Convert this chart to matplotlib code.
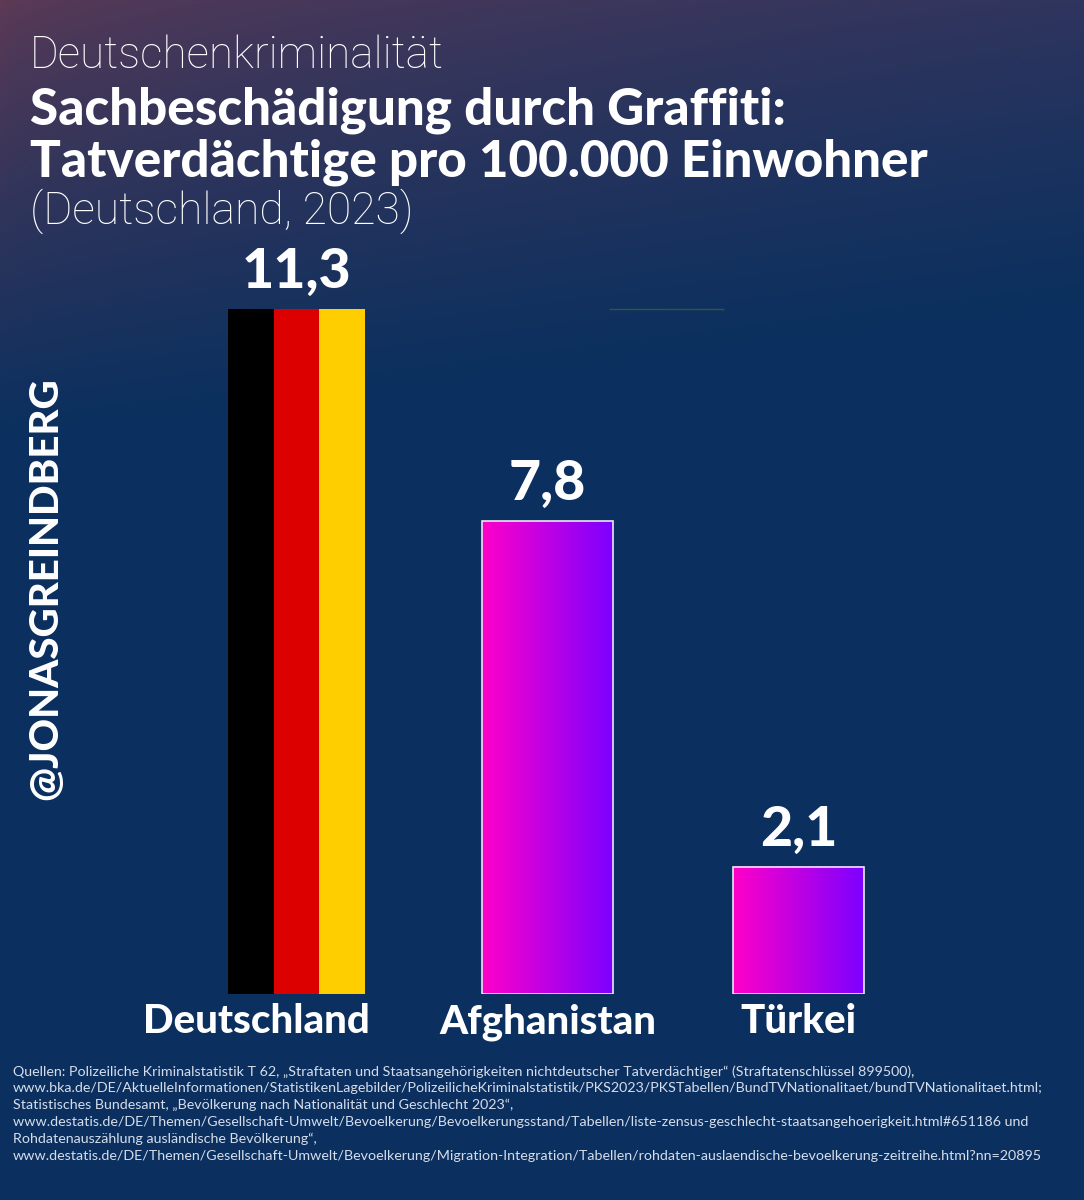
import numpy as np
import matplotlib.pyplot as plt
from matplotlib.colors import LinearSegmentedColormap
from matplotlib.patches import Rectangle

countries = ['Deutschland', 'Afghanistan', 'Türkei']
values = [11.3, 7.8, 2.1]
value_labels = ['11,3', '7,8', '2,1']
flag_colors = ['#000000', '#dd0000', '#ffce00']

kicker = 'Deutschenkriminalität'
title = 'Sachbeschädigung durch Graffiti:\nTatverdächtige pro 100.000 Einwohner'
subtitle = '(Deutschland, 2023)'
handle = '@JONASGREINDBERG'
sources = [
    'Quellen: Polizeiliche Kriminalstatistik T 62, „Straftaten und Staatsangehörigkeiten nichtdeutscher Tatverdächtiger“ (Straftatenschlüssel 899500),',
    'www.bka.de/DE/AktuelleInformationen/StatistikenLagebilder/PolizeilicheKriminalstatistik/PKS2023/PKSTabellen/BundTVNationalitaet/bundTVNationalitaet.html;',
    'Statistisches Bundesamt, „Bevölkerung nach Nationalität und Geschlecht 2023“,',
    'www.destatis.de/DE/Themen/Gesellschaft-Umwelt/Bevoelkerung/Bevoelkerungsstand/Tabellen/liste-zensus-geschlecht-staatsangehoerigkeit.html#651186 und',
    'Rohdatenauszählung ausländische Bevölkerung“,',
    'www.destatis.de/DE/Themen/Gesellschaft-Umwelt/Bevoelkerung/Migration-Integration/Tabellen/rohdaten-auslaendische-bevoelkerung-zeitreihe.html?nn=20895',
]

W, H = 1084, 1200
fig = plt.figure(figsize=(W / 100, H / 100), dpi=100)

# background: purple-ish top (redder at the left) fading down to navy
bg = fig.add_axes([0, 0, 1, 1])
yy, xx = np.mgrid[0:H:4, 0:W:4]
top_l = np.array([0x5e, 0x3a, 0x55]) / 255
top_r = np.array([0x30, 0x35, 0x5e]) / 255
navy = np.array([0x0b, 0x30, 0x5f]) / 255
hx = (xx / W)[..., None] ** 0.55
top = top_l * (1 - hx) + top_r * hx
v = np.clip(yy / (430 - 130 * xx / W), 0, 1)[..., None] ** 0.85
img = top * (1 - v) + navy * v
bg.imshow(img, extent=[0, 1, 0, 1], aspect='auto', origin='upper')
bg.set_axis_off()

ax = fig.add_axes([171 / W, (H - 994) / H, 753 / W, 13 * 60.6 / H])
ax.patch.set_alpha(0)
x = np.arange(len(countries))
widths = [0.545, 0.52, 0.52]
label_shift = [-0.16, 0, 0]

grad = LinearSegmentedColormap.from_list('pv', ['#ff00c8', '#7c00ff'])
gvals = np.linspace(0, 1, 256)[None, :]

for i, val in enumerate(values):
    w = widths[i]
    x0 = x[i] - w / 2
    if i == 0:
        sw = w / 3
        ax.bar([x0 + sw * (k + 0.5) for k in range(3)], [val] * 3, width=sw,
               color=flag_colors, linewidth=0)
    else:
        ax.imshow(gvals, cmap=grad, extent=[x0, x0 + w, 0, val], aspect='auto',
                  zorder=2)
        ax.add_patch(Rectangle((x0, 0), w, val, fill=False, edgecolor='#e8e8f0',
                               linewidth=1.2, zorder=3))
    ax.text(x[i], val + 0.2, value_labels[i], ha='center', va='bottom',
            color='white', fontsize=40, fontweight='black', family='Lato')
    ax.text(x[i] + label_shift[i], -0.15, countries[i], ha='center', va='top',
            color='white', fontsize=29, fontweight='black', family='Lato')

ax.hlines(values[0], 1.245, 1.703, color='#2e5a3a', linewidth=1)

ax.set_xlim(-0.5, 2.5)
ax.set_ylim(0, 13)
ax.set_xticks([])
ax.set_yticks([])
for s in ax.spines.values():
    s.set_visible(False)

fig.text(30 / W, 1 - 68 / H, kicker, color='white', fontsize=31.7,
         fontweight='light', family='Roboto', va='baseline')
fig.text(30 / W, 1 - 177 / H, title, color='white', fontsize=36.8,
         fontweight='black', family='Lato', va='baseline', linespacing=1.12)
fig.text(30 / W, 1 - 224 / H, subtitle, color='white', fontsize=32,
         fontweight='light', family='Roboto', va='baseline')
fig.text(46 / W, 1 - 589 / H, handle, color='white', fontsize=29,
         fontweight='black', family='Lato', rotation=90, ha='center',
         va='center')

fig.text(13 / W, 1 - 1065 / H, '\n'.join(sources), color='#d6ddea',
         fontsize=10.3, fontweight='normal', family='Lato', va='top',
         linespacing=1.45)

fig.savefig('out.png', dpi=100)
